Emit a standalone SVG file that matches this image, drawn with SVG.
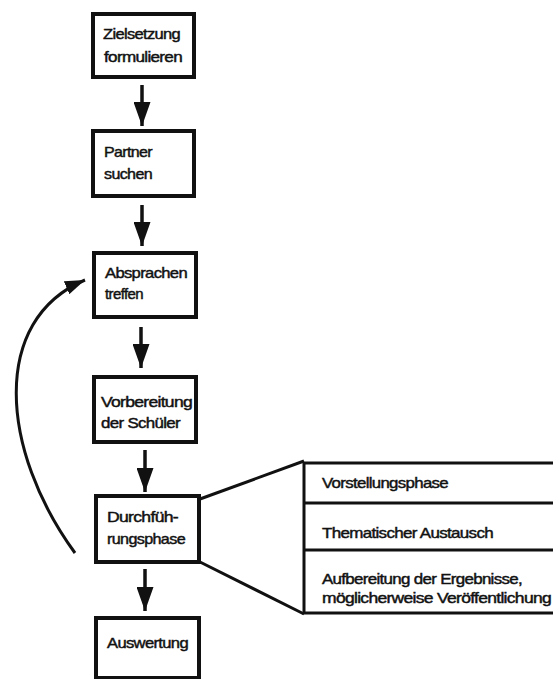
<svg xmlns="http://www.w3.org/2000/svg" width="553" height="679" viewBox="0 0 553 679">
<style>
.box{fill:#fff;stroke:#111;stroke-width:4}
.t{font-family:"Liberation Sans",Arial,sans-serif;font-size:15px;fill:#111;stroke:#111;stroke-width:0.45px;letter-spacing:-0.6px}
.tb{fill:#fff;stroke:#111;stroke-width:3}
.ln{fill:none;stroke:#111;stroke-width:3.5}
</style>
<defs>
<marker id="ah" markerUnits="userSpaceOnUse" markerWidth="24" markerHeight="17" refX="24" refY="8.5" orient="auto" viewBox="0 0 24 17">
<path d="M0,0 L24,8.5 L0,17 Z" fill="#111"/>
</marker>
<marker id="ah2" markerUnits="userSpaceOnUse" markerWidth="20" markerHeight="14" refX="20" refY="7" orient="auto" viewBox="0 0 20 14">
<path d="M0,0 L20,7 L0,14 Z" fill="#111"/>
</marker>
</defs>
<rect width="553" height="679" fill="#fff"/>
<g id="connectors">
<line class="ln" x1="142" y1="85" x2="142" y2="126" marker-end="url(#ah)"/>
<line class="ln" x1="142" y1="205" x2="142" y2="246" marker-end="url(#ah)"/>
<line class="ln" x1="141" y1="327" x2="141" y2="368" marker-end="url(#ah)"/>
<line class="ln" x1="145" y1="450" x2="145" y2="492" marker-end="url(#ah)"/>
<line class="ln" x1="145" y1="569" x2="145" y2="611" marker-end="url(#ah)"/>
<path class="ln" style="stroke-width:3" d="M75,553 C0,450 -10,320 85,280" marker-end="url(#ah2)"/>
<line class="ln" style="stroke-width:3" x1="200" y1="499" x2="304" y2="461"/>
<line class="ln" style="stroke-width:3" x1="200" y1="562" x2="304" y2="614"/>
</g>
<g id="n1"><rect class="box" x="93" y="14" width="101" height="63"/>
<text class="t" x="103" y="39" textLength="77" lengthAdjust="spacingAndGlyphs">Zielsetzung</text>
<text class="t" x="104" y="62" textLength="78" lengthAdjust="spacingAndGlyphs">formulieren</text></g>
<g id="n2"><rect class="box" x="93" y="131" width="101" height="65"/>
<text class="t" x="104" y="157" textLength="48" lengthAdjust="spacingAndGlyphs">Partner</text>
<text class="t" x="104" y="179" textLength="48" lengthAdjust="spacingAndGlyphs">suchen</text></g>
<g id="n3"><rect class="box" x="94" y="253" width="102" height="64"/>
<text class="t" x="105" y="278" textLength="82" lengthAdjust="spacingAndGlyphs">Absprachen</text>
<text class="t" x="105" y="299" textLength="38" lengthAdjust="spacingAndGlyphs">treffen</text></g>
<g id="n4"><rect class="box" x="94" y="377" width="102" height="65"/>
<text class="t" x="101" y="407" textLength="91" lengthAdjust="spacingAndGlyphs">Vorbereitung</text>
<text class="t" x="101" y="428" textLength="79" lengthAdjust="spacingAndGlyphs">der Schüler</text></g>
<g id="n5"><rect class="box" x="96" y="496" width="103" height="66"/>
<text class="t" x="107" y="522" textLength="71" lengthAdjust="spacingAndGlyphs">Durchfüh-</text>
<text class="t" x="107" y="544" textLength="78" lengthAdjust="spacingAndGlyphs">rungsphase</text></g>
<g id="n6"><rect class="box" x="96" y="618" width="103" height="60"/>
<text class="t" x="107" y="648" textLength="81" lengthAdjust="spacingAndGlyphs">Auswertung</text></g>
<g id="n7">
<rect class="tb" x="304" y="463" width="260" height="150"/>
<line class="tb" x1="304" y1="503" x2="564" y2="503"/>
<line class="tb" x1="304" y1="550" x2="564" y2="550"/>
<text class="t" x="322" y="488" textLength="126" lengthAdjust="spacingAndGlyphs">Vorstellungsphase</text>
<text class="t" x="322" y="538" textLength="171" lengthAdjust="spacingAndGlyphs">Thematischer Austausch</text>
<text class="t" x="322" y="584" textLength="200" lengthAdjust="spacingAndGlyphs">Aufbereitung der Ergebnisse,</text>
<text class="t" x="322" y="603" textLength="229" lengthAdjust="spacingAndGlyphs">möglicherweise Veröffentlichung</text>
</g>
</svg>
